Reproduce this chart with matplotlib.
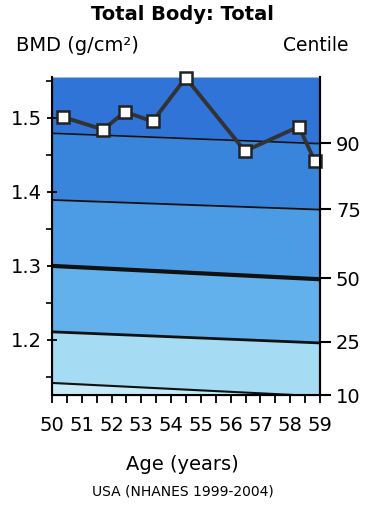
import numpy as np
import matplotlib
matplotlib.use("Agg")
import matplotlib.pyplot as plt

# centile curves (BMD g/cm2) read at ages 50 and 59
edades_c = [50, 59]
c90 = [1.479, 1.465]
c75 = [1.389, 1.376]
c50 = [1.300, 1.282]
c25 = [1.211, 1.196]
c10 = [1.142, 1.124]
centiles = ["10", "25", "50", "75", "90"]

# measurements
edades = [50.37, 51.72, 52.45, 53.38, 54.49, 56.48, 58.29, 58.83]
bmd = [1.501, 1.484, 1.508, 1.495, 1.554, 1.455, 1.488, 1.441]

ymin, ymax = 1.1257, 1.555

fig = plt.figure(figsize=(3.65, 5.08), dpi=100)
ax = fig.add_axes([0.1425, 0.2224, 0.7342, 0.626])

x = np.array(edades_c)
colores = ["#c6eaf8", "#a5dcf3", "#62b1ec", "#4c9be5", "#3a85dc", "#2f74d6"]
bandas = [[ymin, ymin], c10, c25, c50, c75, c90, [ymax, ymax]]
for i in range(6):
	ax.fill_between(x, bandas[i], bandas[i + 1], color=colores[i], lw=0)

anchos = [1.5, 2.0, 3.0, 1.3, 1.2]
for curva, w in zip([c10, c25, c50, c75, c90], anchos):
	ax.plot(x, curva, color="#111111", lw=w, solid_capstyle="butt")

ax.plot(edades, bmd, color="#333333", lw=2.8, marker="s", ms=9,
	markerfacecolor="white", markeredgecolor="#222222", markeredgewidth=1.8,
	clip_on=False, zorder=5)

ax.set_xlim(50, 59)
ax.set_ylim(ymin, ymax)
ax.set_xticks(range(50, 60))
ax.set_xticks(np.arange(50, 59.01, 0.5), minor=True)
ax.set_yticks([1.2, 1.3, 1.4, 1.5])
ax.set_yticks([1.15, 1.25, 1.35, 1.45, 1.55], minor=True)
ax.set_yticklabels(["1.2", "1.3", "1.4", "1.5"])

ax.tick_params(axis="x", which="both", direction="out", length=6, width=1.3,
	labelsize=14, pad=9)
ax.tick_params(axis="y", which="major", direction="inout", length=7, width=1.3,
	labelsize=14)
ax.tick_params(axis="y", which="minor", direction="out", length=4, width=1.2)

for s in ["left", "right", "bottom"]:
	ax.spines[s].set_linewidth(1.5)
ax.spines["top"].set_visible(False)

ax2 = ax.twinx()
ax2.set_ylim(ymin, ymax)
ax2.set_yticks([c10[-1], c25[-1], c50[-1], c75[-1], c90[-1]])
ax2.set_yticklabels(centiles)
ax2.tick_params(axis="y", direction="out", length=8, width=1.5, labelsize=14)
ax2.spines["top"].set_visible(False)
ax2.spines["right"].set_linewidth(1.5)

fig.text(0.5, 0.972, "Total Body: Total", ha="center", va="center",
	fontsize=14, fontweight="bold")
fig.text(0.045, 0.91, "BMD (g/cm²)", ha="left", va="center", fontsize=14)
fig.text(0.955, 0.91, "Centile", ha="right", va="center", fontsize=13.5)
fig.text(0.5, 0.085, "Age (years)", ha="center", va="center", fontsize=14)
fig.text(0.5, 0.032, "USA (NHANES 1999-2004)", ha="center", va="center",
	fontsize=10)

fig.savefig("out.png", dpi=100)
